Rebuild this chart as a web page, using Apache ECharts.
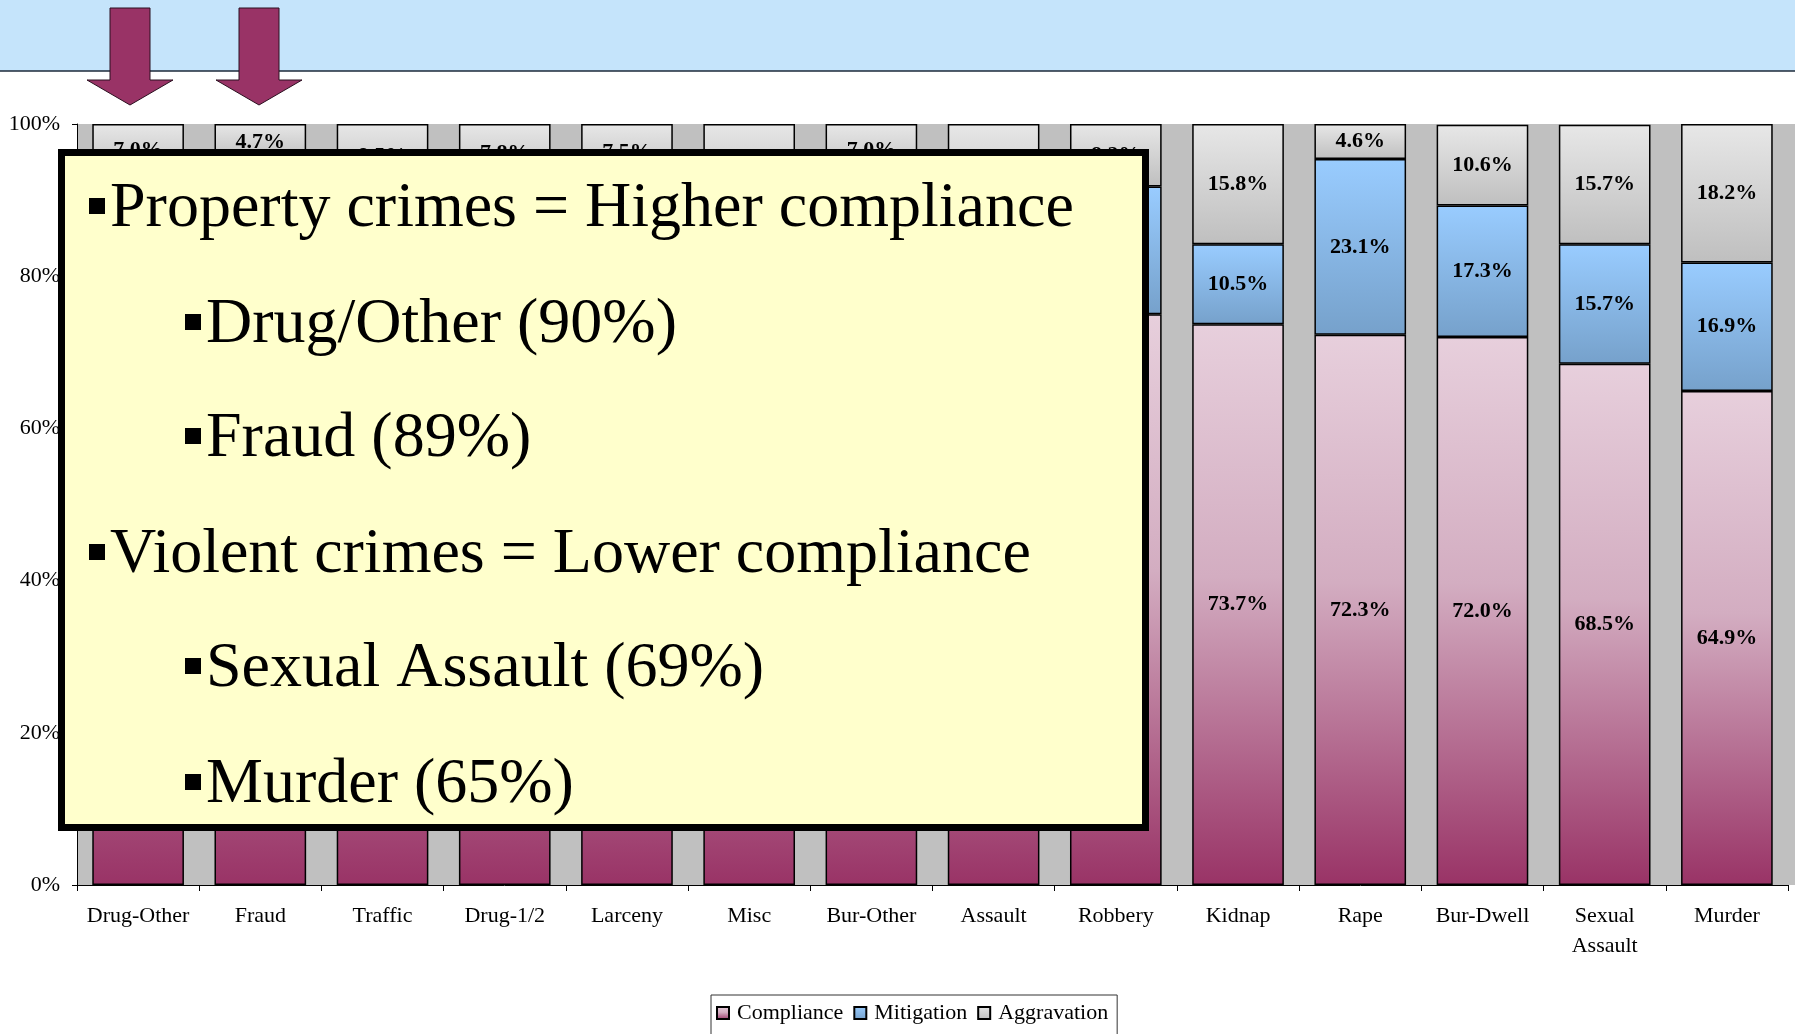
<!DOCTYPE html>
<html>
<head>
<meta charset="utf-8">
<script src="https://cdn.jsdelivr.net/npm/echarts@6/dist/echarts.min.js"></script>
<style>
  html, body { margin: 0; padding: 0; background: #fff; }
  #main { width: 1795px; height: 1034px; }
</style>
</head>
<body>
<div id="main"></div>
<script>
// categories and the three shares (percent of sentences)
var categories = ['Drug-Other', 'Fraud', 'Traffic', 'Drug-1/2', 'Larceny', 'Misc', 'Bur-Other',
  'Assault', 'Robbery', 'Kidnap', 'Rape', 'Bur-Dwell', 'Sexual\nAssault', 'Murder'];
var compliance = [90.1, 88.9, 84.5, 83.0, 81.5, 79.0, 78.0, 76.0, 75.0, 73.7, 72.3, 72.0, 68.5, 64.9];
var mitigation = [2.9, 6.4, 7.0, 9.2, 11.0, 11.0, 15.0, 12.0, 16.8, 10.5, 23.1, 17.3, 15.7, 16.9];
var aggravation = [7.0, 4.7, 8.5, 7.8, 7.5, 10.0, 7.0, 12.0, 8.2, 15.8, 4.6, 10.6, 15.7, 18.2];
var yTicks = [0, 20, 40, 60, 80, 100];

// text box lines
var noteLevels = [1, 2, 2, 1, 2, 2];
var noteTexts = [
  'Property crimes = Higher compliance',
  'Drug/Other (90%)',
  'Fraud (89%)',
  'Violent crimes = Lower compliance',
  'Sexual Assault (69%)',
  'Murder (65%)'
];

var serif = '"Liberation Serif", "Times New Roman", serif';
var chart = echarts.init(document.getElementById('main'));

function grad(stops) {
  return new echarts.graphic.LinearGradient(0, 0, 0, 1, stops.map(function (s) {
    return { offset: s[0], color: s[1] };
  }));
}

var barLabel = {
  show: true,
  position: 'inside',
  color: '#000',
  fontFamily: serif,
  fontWeight: 'bold',
  fontSize: 22,
  formatter: function (p) { return p.value.toFixed(1) + '%'; }
};

function makeSeries(name, data, fill) {
  return {
    name: name,
    type: 'bar',
    stack: 'all',
    data: data,
    barWidth: '75%',
    itemStyle: { color: fill, borderColor: '#000', borderWidth: 1.5 },
    label: barLabel,
    emphasis: { disabled: true }
  };
}

var option = {
  animation: false,
  backgroundColor: '#fff',
  grid: {
    left: 77, right: 7, top: 124, bottom: 149,
    show: true, backgroundColor: '#c0c0c0', borderWidth: 0
  },
  legend: {
    left: 711, top: 995,
    orient: 'horizontal',
    icon: 'rect',
    itemWidth: 12, itemHeight: 12, itemGap: 10,
    padding: [7, 9, 30, 5],
    borderColor: '#333', borderWidth: 1,
    backgroundColor: '#fff',
    itemStyle: { borderColor: '#000', borderWidth: 2 },
    textStyle: { fontFamily: serif, fontSize: 22, color: '#000', padding: [0, 0, 0, 3] },
    data: ['Compliance', 'Mitigation', 'Aggravation']
  },
  xAxis: {
    type: 'category',
    data: categories,
    axisLine: { lineStyle: { color: '#000', width: 1 } },
    axisTick: { show: true, length: 6, lineStyle: { color: '#000' } },
    axisLabel: { fontFamily: serif, fontSize: 22, color: '#000', margin: 16, lineHeight: 30, interval: 0 },
    splitLine: { show: false }
  },
  yAxis: {
    type: 'value',
    min: yTicks[0], max: yTicks[yTicks.length - 1], interval: 20,
    axisLine: { show: true, lineStyle: { color: '#000', width: 1 } },
    axisTick: { show: true, length: 5, lineStyle: { color: '#000' } },
    axisLabel: { fontFamily: serif, fontSize: 22, color: '#000', margin: 17, formatter: '{value}%' },
    splitLine: { show: false }
  },
  series: [
    makeSeries('Compliance', compliance, grad([[0, '#e7cfdc'], [0.45, '#d3adc1'], [1, '#993366']])),
    makeSeries('Mitigation', mitigation, grad([[0, '#99ccff'], [1, '#76a1cb']])),
    makeSeries('Aggravation', aggravation, grad([[0, '#e7e7e7'], [1, '#bfbfbf']]))
  ]
};
chart.setOption(option);

// overlays: header band, arrows, text box
var gridRight = chart.convertToPixel({ xAxisIndex: 0 }, categories.length - 1) + 61;
var yTop = chart.convertToPixel({ yAxisIndex: 0 }, 100);
var yBottom = chart.convertToPixel({ yAxisIndex: 0 }, 0);

function arrow(cx) {
  return {
    type: 'polygon',
    shape: { points: [[cx - 20, 8], [cx + 20, 8], [cx + 20, 80], [cx + 43, 80], [cx, 105], [cx - 43, 80], [cx - 20, 80]] },
    style: { fill: '#993366', stroke: '#2b1020', lineWidth: 1 },
    z: 110
  };
}

var graphics = [
  { type: 'rect', shape: { x: gridRight, y: yTop, width: 1795 - gridRight, height: yBottom - yTop },
    style: { fill: '#c0c0c0' }, z: -1 },
  { type: 'rect', shape: { x: 0, y: 0, width: 1795, height: 71 }, style: { fill: '#c5e4fb' }, z: 100 },
  { type: 'line', shape: { x1: 0, y1: 71, x2: 1795, y2: 71 }, style: { stroke: '#1c2a3a', lineWidth: 1.5 }, z: 101 },
  arrow(130),
  arrow(259),
  { type: 'rect', shape: { x: 61.5, y: 152.5, width: 1084, height: 675 },
    style: { fill: '#ffffcc', stroke: '#000', lineWidth: 7 }, z: 120 }
];

var lineY = [208, 324, 438, 554, 668, 784];
noteTexts.forEach(function (t, i) {
  var lvl = noteLevels[i];
  var bx = lvl === 1 ? 89 : 185;
  var tx = lvl === 1 ? 110 : 206;
  graphics.push({ type: 'rect', shape: { x: bx, y: lineY[i] - 10, width: 16, height: 16 },
    style: { fill: '#000' }, z: 121 });
  graphics.push({ type: 'text', x: tx, y: lineY[i] + 1, z: 121,
    style: { text: t, fontFamily: serif, fontSize: 64, fill: '#000', align: 'left', verticalAlign: 'middle' } });
});

chart.setOption({ graphic: graphics });
</script>
</body>
</html>
